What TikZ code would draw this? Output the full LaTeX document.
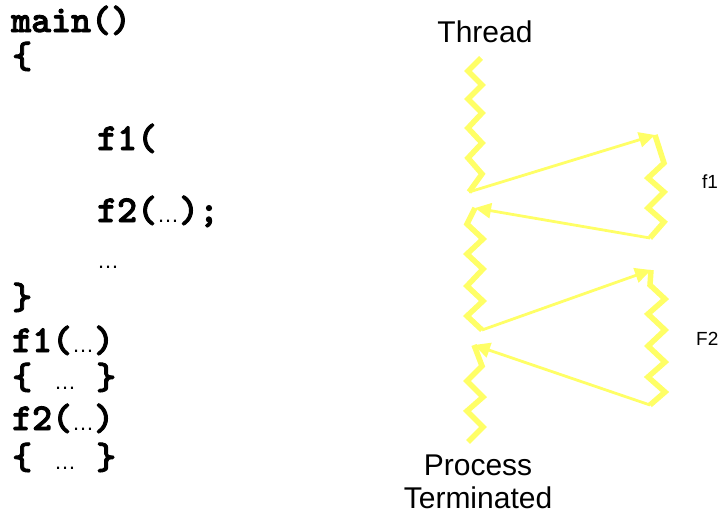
\documentclass[tikz,border=0pt]{standalone}
\usepackage{fontspec}
\setmainfont{Liberation Sans}
\newfontfamily\arialfont{Liberation Sans}
\usetikzlibrary{arrows.meta}
\definecolor{zigyellow}{RGB}{255,255,102}
\newcommand{\heavy}[1]{\special{pdf:literal direct 2 Tr 0.9 w}#1\special{pdf:literal direct 0 Tr 1 w}}
\tikzset{
  zig/.style={draw=zigyellow, line width=5.5pt, line join=miter},
  arr/.style={draw=zigyellow, line width=2.8pt, -{Triangle[length=16pt,width=15pt]}},
  code/.style={inner sep=0pt, anchor=base west, font=\ttfamily\bfseries\fontsize{38}{38}\selectfont},
  lbl/.style={inner sep=0pt, anchor=base, font=\fontsize{30}{30}\selectfont},
  small/.style={inner sep=0pt, anchor=base west, font=\fontsize{19}{19}\selectfont}
}
\newcommand{\dotsarial}{{\arialfont\mdseries\fontsize{22}{22}\selectfont …}}
\begin{document}
\begin{tikzpicture}[x=1pt,y=-1pt]
\useasboundingbox (0,0) rectangle (723,514);
% code
\node[code] (l1) at (11,32) {\heavy{main()}};
\node[code] (l2) at (12,68) {\heavy{\{}};
\node[code] (l3) at (97,150) {\heavy{f1(}};
\node[code] (l4) at (97,222) {\heavy{f2(}\dotsarial\heavy{);}};
\node[code] (l5) at (97,268) {\dotsarial};
\node[code] (l6) at (12,309) {\heavy{\}}};
\node[code] (l7) at (12,352) {\heavy{f1(}\dotsarial\heavy{)}};
\node[code] (l8) at (12,389) {\heavy{\{}\hspace{22pt}\dotsarial\hspace{20pt}\heavy{\}}};
\node[code] (l9) at (12,430) {\heavy{f2(}\dotsarial\heavy{)}};
\node[code] (l10) at (12,469) {\heavy{\{}\hspace{22pt}\dotsarial\hspace{20pt}\heavy{\}}};
% labels
\node[lbl] (thread) at (485,42) {Thread};
\node[lbl] (proc) at (478,475) {Process};
\node[lbl] (term) at (478,508) {Terminated};
\node[small] (lf1) at (702,188) {f1};
\node[small] (lf2) at (696,345) {F2};
% thread segments
\coordinate (t1s) at (481,58);
\coordinate (t1e) at (469,192);
\draw[zig] (t1s) -- (468,71) -- (482,85) -- (468,99) -- (482,113) -- (468,128) -- (482,143) -- (468,158) -- (482,174) -- (t1e);
\coordinate (t2s) at (475,208);
\coordinate (t2e) at (482,330);
\draw[zig] (t2s) -- (467,224) -- (483,239) -- (467,254) -- (483,269) -- (467,286) -- (483,301) -- (467,316) -- (t2e);
\coordinate (t3s) at (474,345);
\coordinate (t3e) at (468,442);
\draw[zig] (t3s) -- (482,366) -- (467,381) -- (483,397) -- (467,411) -- (483,427) -- (t3e);
% function segments
\coordinate (f1s) at (655,135);
\coordinate (f1e) at (650,238);
\draw[zig] (f1s) -- (664,163) -- (648,178) -- (664,192) -- (648,208) -- (664,222) -- (f1e);
\coordinate (f2s) at (651,270);
\coordinate (f2e) at (650,405);
\draw[zig] (f2s) -- (650,285) -- (665,299) -- (648,314) -- (665,330) -- (648,346) -- (665,362) -- (648,377) -- (665,392) -- (f2e);
% arrows
\draw[arr] (t1e) -- (f1s);
\draw[arr] (f1e) -- (t2s);
\draw[arr] (t2e) -- (f2s);
\draw[arr] (f2e) -- (t3s);
\end{tikzpicture}
\end{document}
